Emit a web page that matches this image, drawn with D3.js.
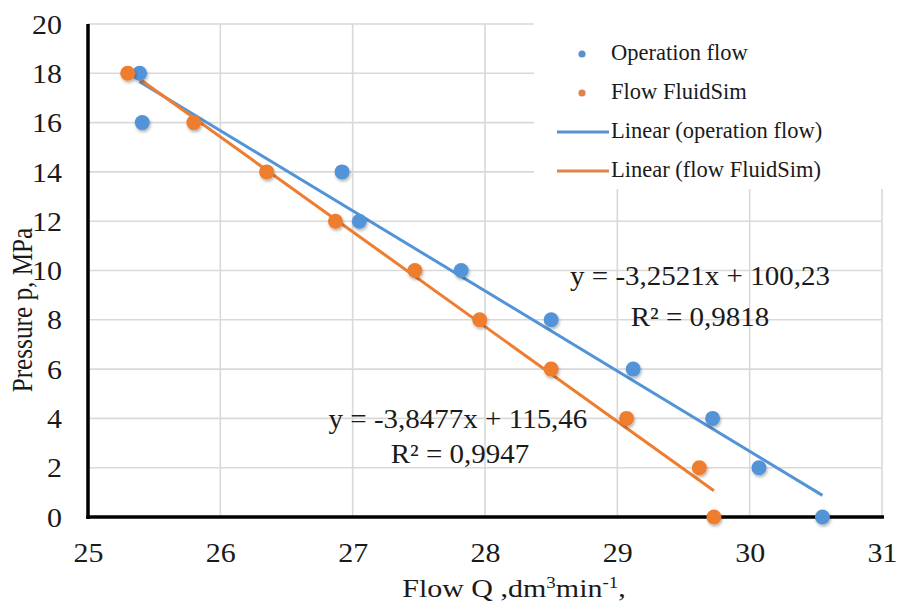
<!DOCTYPE html>
<html>
<head>
<meta charset="utf-8">
<script src="https://cdn.jsdelivr.net/npm/d3@7"></script>
<style>
html, body { margin: 0; padding: 0; background: #fff; }
svg { display: block; }
</style>
</head>
<body>
<svg id="chart" width="899" height="612"></svg>
<script>
// ---------- data ----------
const xTicks = [25, 26, 27, 28, 29, 30, 31];
const xTickLabels = ["25", "26", "27", "28", "29", "30", "31"];
const yTicks = [0, 2, 4, 6, 8, 10, 12, 14, 16, 18, 20];
const yTickLabels = ["0", "2", "4", "6", "8", "10", "12", "14", "16", "18", "20"];

const operationQ = [25.39, 25.41, 26.92, 27.05, 27.82, 28.50, 29.12, 29.72, 30.07, 30.55];
const operationP = [18, 16, 14, 12, 10, 8, 6, 4, 2, 0];
const fluidSimQ = [25.30, 25.80, 26.35, 26.87, 27.47, 27.96, 28.50, 29.07, 29.62, 29.73];
const fluidSimP = [18, 16, 14, 12, 10, 8, 6, 4, 2, 0];

const seriesNames = ["Operation flow", "Flow FluidSim"];
const trendNames = ["Linear (operation flow)", "Linear (flow FluidSim)"];
const trendSlopes = [-3.2521, -3.8477];
const trendIntercepts = [100.23, 115.46];
const equationLabels = ["y = -3,2521x + 100,23", "y = -3,8477x + 115,46"];
const r2Labels = ["R\u00B2 = 0,9818", "R\u00B2 = 0,9947"];

const colors = ["#5394d8", "#ef7d2f"];
const legendColors = ["#5b8fcf", "#e0834a"];
const FONT = "'Liberation Serif', 'Times New Roman', serif";

// ---------- build ----------
const series = [
  { name: seriesNames[0], trend: trendNames[0], q: operationQ, p: operationP, slope: trendSlopes[0], b: trendIntercepts[0], color: colors[0], lcolor: legendColors[0] },
  { name: seriesNames[1], trend: trendNames[1], q: fluidSimQ, p: fluidSimP, slope: trendSlopes[1], b: trendIntercepts[1], color: colors[1], lcolor: legendColors[1] }
];

const svg = d3.select("#chart");
const x = d3.scaleLinear().domain([25, 31]).range([88, 882]);
const y = d3.scaleLinear().domain([0, 20]).range([517, 24]);

const defs = svg.append("defs");
const f = defs.append("filter").attr("id", "shadow").attr("x", "-50%").attr("y", "-50%").attr("width", "200%").attr("height", "200%");
f.append("feDropShadow").attr("dx", 1).attr("dy", 2).attr("stdDeviation", 1.4).attr("flood-color", "#000").attr("flood-opacity", 0.3);

// gridlines
const grid = svg.append("g");
grid.selectAll("line.h").data(yTicks.filter(d => d > 0)).join("line")
  .attr("x1", x(25)).attr("x2", x(31))
  .attr("y1", d => y(d)).attr("y2", d => y(d))
  .attr("stroke", "#d9d9d9").attr("stroke-width", 1.6);
grid.selectAll("line.v").data(xTicks.filter(d => d > 25)).join("line")
  .attr("x1", d => x(d)).attr("x2", d => x(d))
  .attr("y1", y(20)).attr("y2", y(0))
  .attr("stroke", "#d9d9d9").attr("stroke-width", 1.6);

// legend background
svg.append("rect").attr("x", 534).attr("y", 0).attr("width", 365).attr("height", 189).attr("fill", "#fff");

// axis lines
svg.append("line").attr("x1", x(25)).attr("x2", x(25)).attr("y1", y(20)).attr("y2", y(0) + 2)
  .attr("stroke", "#000").attr("stroke-width", 3.5);
svg.append("line").attr("x1", x(25) - 1.75).attr("x2", x(31) + 2).attr("y1", y(0)).attr("y2", y(0))
  .attr("stroke", "#000").attr("stroke-width", 3.5);

// tick labels via d3 axes
const gy = svg.append("g").attr("transform", `translate(${x(25)},0)`)
  .call(d3.axisLeft(y).tickValues(yTicks).tickFormat((d, i) => yTickLabels[i]).tickSize(0).tickPadding(26));
gy.select(".domain").remove();
gy.selectAll("text").attr("font-family", FONT).attr("font-size", 30).attr("fill", "#1a1a1a")
  .attr("dy", "0.34em").attr("transform", "scale(1,0.9)");

const gx = svg.append("g").attr("transform", `translate(0,${y(0)})`)
  .call(d3.axisBottom(x).tickValues(xTicks).tickFormat((d, i) => xTickLabels[i]).tickSize(0));
gx.select(".domain").remove();
gx.selectAll("text").attr("font-family", FONT).attr("font-size", 30).attr("fill", "#1a1a1a")
  .attr("y", 0).attr("dy", "0.34em").attr("transform", "translate(0,36) scale(1,0.9)");

// trendlines
series.forEach(s => {
  const [q0, q1] = d3.extent(s.q);
  const line = d3.line().x(d => x(d)).y(d => y(s.slope * d + s.b));
  svg.append("path").attr("d", line([q0, q1])).attr("fill", "none")
    .attr("stroke", s.color).attr("stroke-width", 3);
});

// points
series.forEach(s => {
  svg.append("g").selectAll("circle").data(s.q.map((q, i) => [q, s.p[i]])).join("circle")
    .attr("cx", d => x(d[0])).attr("cy", d => y(d[1])).attr("r", 7.5)
    .attr("fill", s.color).attr("filter", "url(#shadow)");
});

// squashed text helper
function label(parent, tx, ty, sy, size, anchor, txt) {
  return parent.append("text")
    .attr("transform", `translate(${tx},${ty}) scale(1,${sy})`)
    .attr("font-family", FONT).attr("font-size", size).attr("fill", "#1a1a1a")
    .attr("text-anchor", anchor).text(txt);
}

// trendline equations
label(svg, 700, 285, 0.92, 29, "middle", equationLabels[0]);
label(svg, 700, 326, 0.92, 29, "middle", r2Labels[0]);
label(svg, 458, 428, 0.92, 29, "middle", equationLabels[1]);
label(svg, 460, 463, 0.92, 29, "middle", r2Labels[1]);

// axis titles
const xt = svg.append("text")
  .attr("transform", "translate(514,597) scale(1,0.85)")
  .attr("font-family", FONT).attr("font-size", 30).attr("fill", "#1a1a1a").attr("text-anchor", "middle");
xt.append("tspan").text("Flow Q ,dm");
xt.append("tspan").attr("font-size", 19).attr("dy", -11).text("3");
xt.append("tspan").attr("dy", 11).text("min");
xt.append("tspan").attr("font-size", 19).attr("dy", -11).text("-1");
xt.append("tspan").attr("dy", 11).text(",");

svg.append("text")
  .attr("transform", "translate(32,310) scale(1,0.87) rotate(-90)")
  .attr("font-family", FONT).attr("font-size", 29).attr("fill", "#1a1a1a").attr("text-anchor", "middle")
  .text("Pressure p, MPa");

// legend
const lg = svg.append("g");
const legendItems = [
  { type: "dot", color: series[0].lcolor, text: series[0].name },
  { type: "dot", color: series[1].lcolor, text: series[1].name },
  { type: "line", color: series[0].lcolor, text: series[0].trend },
  { type: "line", color: series[1].lcolor, text: series[1].trend }
];
legendItems.forEach((it, i) => {
  const by = 60 + i * 39;
  const cy = by - 6;
  if (it.type === "dot") {
    lg.append("circle").attr("cx", 582).attr("cy", cy).attr("r", 3.6).attr("fill", it.color);
  } else {
    lg.append("line").attr("x1", 557).attr("x2", 609).attr("y1", cy).attr("y2", cy)
      .attr("stroke", it.color).attr("stroke-width", 3);
  }
  lg.append("text").attr("x", 611).attr("y", by)
    .attr("font-family", FONT).attr("font-size", 22.5).attr("fill", "#1a1a1a").text(it.text);
});
</script>
</body>
</html>
